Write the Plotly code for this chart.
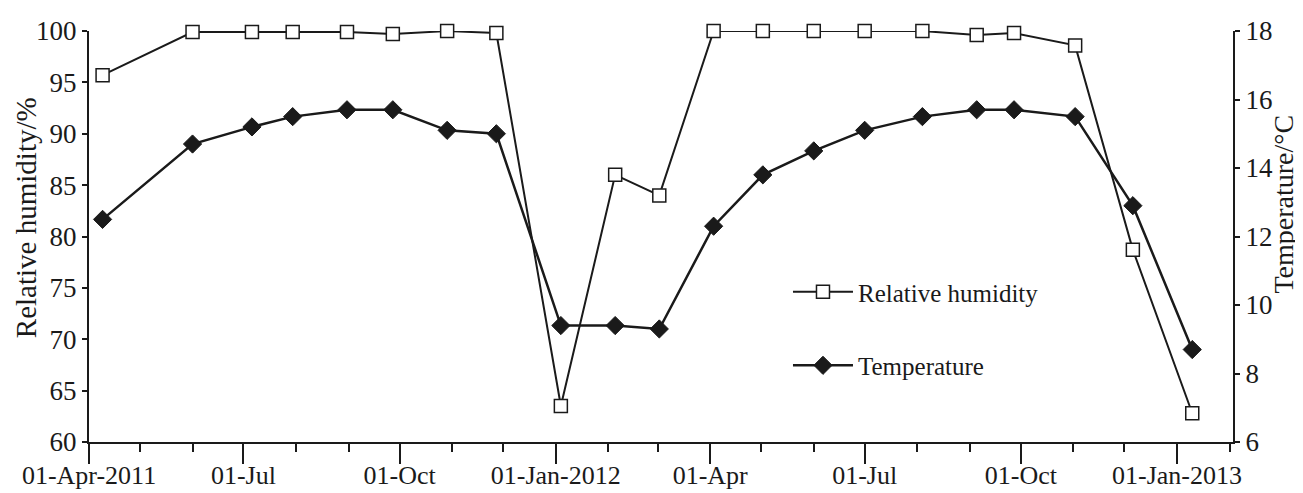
import plotly.graph_objects as go

# Sampling dates
dates = ["2011-04-09", "2011-06-01", "2011-07-06", "2011-07-30", "2011-08-31",
         "2011-09-27", "2011-10-29", "2011-11-27", "2012-01-04", "2012-02-05",
         "2012-03-02", "2012-04-03", "2012-05-02", "2012-06-01", "2012-07-01",
         "2012-08-04", "2012-09-05", "2012-09-27", "2012-11-02", "2012-12-06",
         "2013-01-10"]

humidity = [95.7, 99.9, 99.9, 99.9, 99.9, 99.7, 100.0, 99.8, 63.5, 86.0,
            84.0, 100.0, 100.0, 100.0, 100.0, 100.0, 99.6, 99.8, 98.6, 78.7,
            62.8]

temperature = [12.5, 14.7, 15.2, 15.5, 15.7, 15.7, 15.1, 15.0, 9.4, 9.4,
               9.3, 12.3, 13.8, 14.5, 15.1, 15.5, 15.7, 15.7, 15.5, 12.9,
               8.7]

x_tickvals = ["2011-04-01", "2011-07-01", "2011-10-01", "2012-01-01",
              "2012-04-01", "2012-07-01", "2012-10-01", "2013-01-01"]
x_ticktext = ["01-Apr-2011", "01-Jul", "01-Oct", "01-Jan-2012",
              "01-Apr", "01-Jul", "01-Oct", "01-Jan-2013"]

FONT = "Liberation Serif"
INK = "#1a1a1a"

fig = go.Figure()
fig.add_trace(go.Scatter(
    x=dates, y=humidity, name="Relative humidity", mode="lines+markers",
    legendgroup="rh", cliponaxis=False,
    line=dict(color=INK, width=2),
    marker=dict(symbol="square", size=13, color="white",
                line=dict(color=INK, width=1.5)),
    yaxis="y",
))
fig.add_trace(go.Scatter(
    x=dates, y=temperature, name="Temperature", mode="lines+markers",
    legendgroup="t", cliponaxis=False,
    line=dict(color=INK, width=2.5),
    marker=dict(symbol="diamond", size=14, color=INK,
                line=dict(color=INK, width=1)),
    yaxis="y2",
))

fig.update_layout(
    width=1295, height=485,
    margin=dict(l=81, r=70, t=23, b=51),
    paper_bgcolor="white", plot_bgcolor="white",
    font=dict(family=FONT, size=27, color=INK),
    showlegend=True,
    legend=dict(
        x=0.611, y=0.276, xanchor="left", yanchor="middle",
        bgcolor="rgba(0,0,0,0)", font=dict(size=25, family=FONT),
        tracegroupgap=38, itemwidth=60,
    ),
    xaxis=dict(
        type="date", range=["2011-04-01", "2013-02-03"], automargin=False,
        tickmode="array", tickvals=x_tickvals, ticktext=x_ticktext,
        ticks="outside", ticklen=20, tickwidth=2, tickcolor=INK,
        ticklabelstandoff=-11,
        showline=True, linecolor=INK, linewidth=2,
        showgrid=False, zeroline=False,
        tickfont=dict(size=26),
        minor=dict(dtick="M1", tick0="2011-04-01", ticks="outside",
                   ticklen=8, tickwidth=1.5, tickcolor=INK, showgrid=False),
    ),
    yaxis=dict(
        range=[60, 100], dtick=5, tick0=60, automargin=False,
        ticks="outside", ticklen=5, tickwidth=2, tickcolor=INK,
        showline=True, linecolor=INK, linewidth=2,
        showgrid=False, zeroline=False,
        tickfont=dict(size=27),
    ),
    yaxis2=dict(
        range=[6, 18], dtick=2, tick0=6, automargin=False,
        overlaying="y", side="right",
        ticks="outside", ticklen=5, tickwidth=2, tickcolor=INK,
        showline=True, linecolor=INK, linewidth=2,
        showgrid=False, zeroline=False,
        tickfont=dict(size=27),
    ),
    annotations=[
        dict(text="Relative humidity/%", xref="paper", yref="paper",
             x=-0.0551, y=0.547, xanchor="center", yanchor="middle",
             textangle=-90, showarrow=False, font=dict(size=29, family=FONT)),
        dict(text="Temperature/\u00b0C", xref="paper", yref="paper",
             x=1.0445, y=0.58, xanchor="center", yanchor="middle",
             textangle=-90, showarrow=False, font=dict(size=28, family=FONT)),
    ],
)

fig.write_html("out.html")
